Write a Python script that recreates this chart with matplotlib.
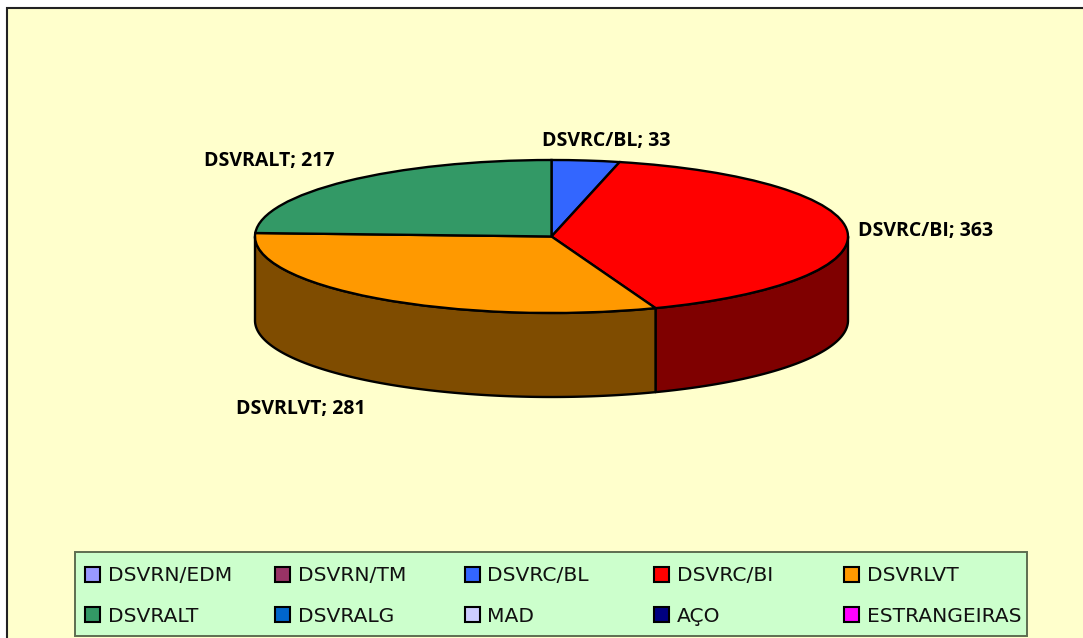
import numpy as np
import matplotlib
matplotlib.use("Agg")
import matplotlib.pyplot as plt
from matplotlib.patches import Patch, Rectangle

# ---- data ----
slice_names = ["DSVRC/BL", "DSVRC/BI", "DSVRLVT", "DSVRALT"]
slice_values = [33, 363, 281, 217]
slice_colors = ["#3366FF", "#FF0000", "#FF9900", "#339966"]
wall_colors = ["#1F3D99", "#7F0000", "#7F4C00", "#1F5C3D"]
legend_names = ["DSVRN/EDM", "DSVRN/TM", "DSVRC/BL", "DSVRC/BI", "DSVRLVT",
                "DSVRALT", "DSVRALG", "MAD", "AÇO", "ESTRANGEIRAS"]
legend_colors = ["#9999FF", "#993366", "#3366FF", "#FF0000", "#FF9900",
                 "#339966", "#0066CC", "#CCCCFF", "#000080", "#FF00FF"]
label_pixels = {"DSVRC/BL": (606, 139), "DSVRC/BI": (926, 230),
                "DSVRLVT": (301, 408), "DSVRALT": (269, 160)}

W, H = 1083, 638
BG = "#FFFFCC"
LEG = "#CCFFCC"
FONT = "DejaVu Sans"
LABEL_FONT = "Open Sans"

fig = plt.figure(figsize=(W / 100, H / 100), dpi=100, facecolor="white")

# Pixel-space backdrop (chart area and legend panel)
bg = fig.add_axes([0, 0, 1, 1])
bg.set_xlim(0, W)
bg.set_ylim(H, 0)
bg.axis("off")
bg.add_patch(Rectangle((7, 8), W + 20, H + 20, facecolor=BG, edgecolor="#222222", lw=1.5))
bg.add_patch(Rectangle((74.5, 552), 952.5, 83.5, facecolor=LEG, edgecolor="#5E6E50", lw=1.4))

# Pie axes: the unit circle is stretched onto the perspective ellipse
LEFT, RIGHT, TOP, BOTTOM = 255, 848, 160, 313
ax = fig.add_axes([LEFT / W, 1 - BOTTOM / H, (RIGHT - LEFT) / W, (BOTTOM - TOP) / H])
ax.set_zorder(2)
wedges, _ = ax.pie(slice_values, colors=slice_colors, startangle=90, counterclock=False,
                   radius=1, wedgeprops=dict(edgecolor="black", linewidth=1.7, zorder=3))
ax.set_aspect("auto")
ax.set_xlim(-1, 1)
ax.set_ylim(-1, 1)
ax.patch.set_visible(False)
for w in wedges:
    w.set_clip_on(False)

DEPTH = 84 / ((BOTTOM - TOP) / 2)
fractions = np.array(slice_values, dtype=float) / sum(slice_values)
edges = np.concatenate([[0.0], np.cumsum(fractions)]) * 2 * np.pi  # clockwise from 12 o'clock
for a0, a1, c in zip(edges[:-1], edges[1:], wall_colors):
    lo, hi = max(a0, np.pi / 2), min(a1, 3 * np.pi / 2)
    if hi <= lo:
        continue
    t = np.linspace(lo, hi, 200)
    x, y = np.sin(t), np.cos(t)
    xs = np.concatenate([x, x[::-1]])
    ys = np.concatenate([y, y[::-1] - DEPTH])
    ax.fill(xs, ys, facecolor=c, edgecolor="black", lw=1.7, clip_on=False, zorder=1,
            joinstyle="round")

# Data labels
for name, value in zip(slice_names, slice_values):
    px, py = label_pixels[name]
    bg.text(px, py + 1.5, f"{name}; {value}", ha="center", va="center", fontsize=14,
            fontweight="bold", family=LABEL_FONT, color="black", zorder=5)

# Legend
handles = [Patch(facecolor=c, edgecolor="black", linewidth=1.5) for c in legend_colors]
order = [i for col in range(5) for i in (col, col + 5)]
FS = 14.6
leg = fig.legend([handles[i] for i in order], [legend_names[i] for i in order],
                 ncol=5, loc="lower left", bbox_to_anchor=(85 / W, 1 - 625.5 / H),
                 bbox_transform=fig.transFigure, borderaxespad=0, frameon=False,
                 prop=dict(family=FONT, size=FS), handlelength=0.74, handleheight=0.74,
                 handletextpad=0.39, columnspacing=0.61, labelspacing=1.04,
                 borderpad=0)
leg._legend_handle_box.mode = "equal"
for t in leg.get_texts():
    t.set_color("#111111")

fig.savefig("out.png", dpi=100, facecolor="white")
